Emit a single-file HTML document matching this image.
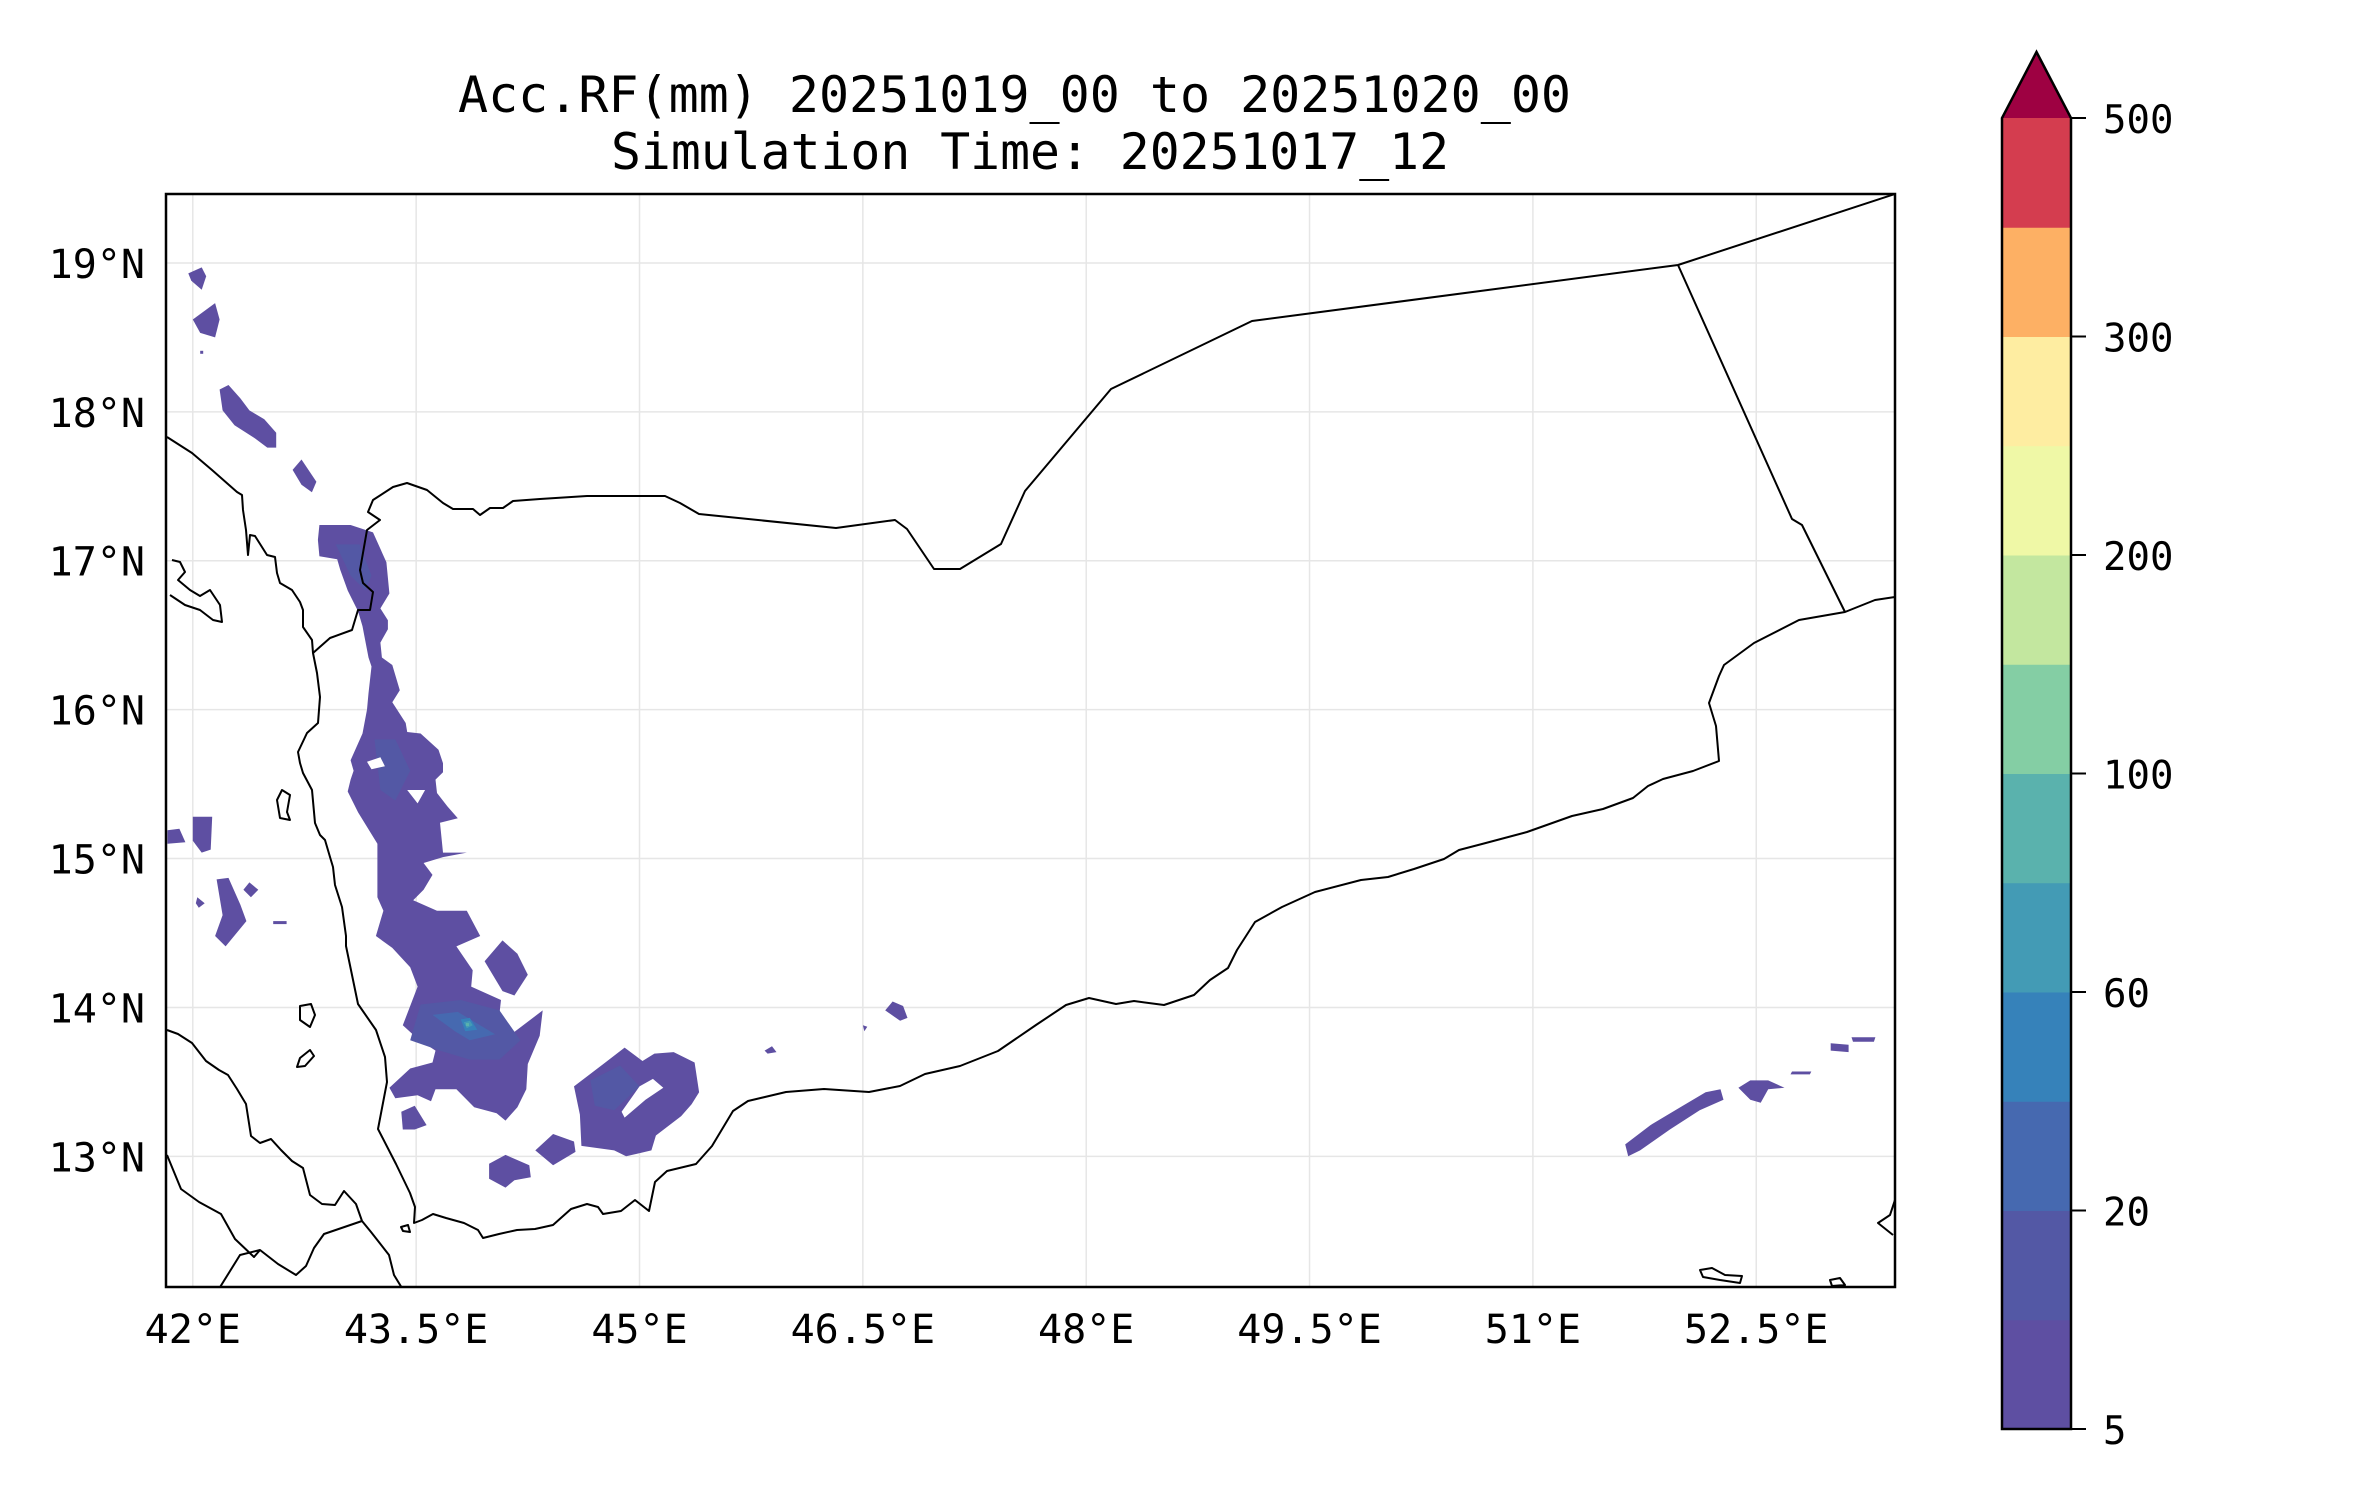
<!DOCTYPE html>
<html><head><meta charset="utf-8"><style>
html,body{margin:0;padding:0;background:#fff}
svg{display:block}
text{font-family:"DejaVu Sans Mono","Liberation Mono",monospace;fill:#000}
</style></head><body>
<svg id="chart" width="2371" height="1500" viewBox="0 0 2371 1500" xmlns="http://www.w3.org/2000/svg">
<rect width="2371" height="1500" fill="#fff"/>
<text x="458" y="112" font-size="50" textLength="1113" lengthAdjust="spacingAndGlyphs">Acc.RF(mm) 20251019_00 to 20251020_00</text>
<text x="611" y="169" font-size="50" textLength="838" lengthAdjust="spacingAndGlyphs">Simulation Time: 20251017_12</text>
<defs><clipPath id="plotclip"><rect x="166" y="194" width="1729" height="1093"/></clipPath></defs>
<g id="grid"></g>
<g id="rain" clip-path="url(#plotclip)"></g>
<g clip-path="url(#plotclip)" fill="none" stroke="#000" stroke-width="2" stroke-linejoin="round">
<path d="M167,437 L192,453 L212,470 L237,492 L242,495 L243,510 L246,530 L248,555 L250,535 L255,536 L267,555 L275,557 L277,573 L280,583 L292,590 L300,602 L303,610 L303,627 L312,640 L313,653 L317,673 L320,697 L318,723 L307,733 L298,752 L300,763 L303,773 L312,790 L315,823 L320,835 L325,840 L330,857 L333,867 L335,885 L342,907 L346,936 L346,946 L358,1004 L376,1030 L385,1057 L387,1082 L378,1129 L396,1164 L410,1193 L415,1207 L414,1223 L422,1220 L433,1214 L446,1218 L464,1223 L478,1230 L483,1238 L499,1234 L517,1230 L535,1229 L553,1225 L571,1209 L587,1204 L598,1207 L603,1214 L621,1211 L635,1200 L649,1211 L655,1182 L667,1171 L696,1164 L712,1146 L733,1111 L748,1101 L786,1092 L824,1089 L869,1092 L900,1086 L925,1074 L960,1066 L998,1051 L1036,1025 L1066,1005 L1089,998 L1116,1004 L1134,1001 L1164,1005 L1194,995 L1210,980 L1228,968 L1237,950 L1255,922 L1282,907 L1315,892 L1361,880 L1388,877 L1414,869 L1444,859 L1459,850 L1482,844 L1527,832 L1572,816 L1603,809 L1633,798 L1648,786 L1663,779 L1693,771 L1719,761 L1716,726 L1709,703 L1719,676 L1724,665 L1754,643 L1799,620 L1845,612 L1875,600 L1895,597"/>
<path d="M313,653 L330,638 L352,630 L358,610 L370,610 L373,592 L363,583 L360,570 L367,530 L380,520 L368,512 L373,500 L393,487 L407,483 L427,490 L443,503 L453,509 L473,509 L480,515 L490,508 L503,508 L513,501 L540,499 L587,496 L665,496 L680,503 L699,514 L836,528 L895,520 L907,529 L934,569 L960,569 L1001,544 L1025,491 L1111,389 L1252,321 L1678,265 L1895,194"/>
<path d="M1678,265 L1792,519 L1802,525 L1845,612"/>
<path d="M167,1030 L178,1034 L192,1043 L206,1061 L219,1070 L228,1075 L237,1089 L246,1104 L251,1136 L260,1143 L271,1139 L281,1150 L292,1161 L303,1168 L310,1195 L322,1204 L335,1205 L344,1191 L356,1204 L362,1221 L371,1232 L389,1255 L394,1275 L405,1293"/>
<path d="M167,1155 L181,1189 L199,1202 L221,1214 L235,1239 L254,1257 L260,1250 L278,1264 L296,1275 L306,1266 L314,1248 L324,1234 L362,1221 M217,1292 L240,1255 L260,1250"/>
<path d="M172,560 L180,562 L185,572 L178,580 L190,590 L200,596 L210,590 L220,605 L222,622 L213,620 L200,610 L185,605 L170,595"/>
<path d="M282,790 L290,795 L287,812 L290,820 L280,818 L277,800 Z"/>
<path d="M300,1006 L311,1004 L315,1015 L310,1027 L300,1020 Z M310,1050 L314,1056 L305,1066 L297,1067 L300,1058 Z M401,1227 L408,1225 L410,1232 L403,1231 Z"/>
<path d="M1700,1270 L1712,1268 L1725,1275 L1742,1276 L1740,1283 L1720,1280 L1703,1277 Z M1830,1280 L1840,1278 L1845,1285 L1832,1286 Z M1895,1200 L1890,1215 L1878,1223 L1893,1235"/>
</g>
<rect x="166" y="194" width="1729" height="1093" fill="none" stroke="#000" stroke-width="2.5"/>
<g id="labels"></g>
<g id="cbar"></g>
</svg>
<script>
// ---- data ----
const lonTicks = [42, 43.5, 45, 46.5, 48, 49.5, 51, 52.5];
const lonLabels = ["42°E","43.5°E","45°E","46.5°E","48°E","49.5°E","51°E","52.5°E"];
const latTicks = [13, 14, 15, 16, 17, 18, 19];
const latLabels = ["13°N","14°N","15°N","16°N","17°N","18°N","19°N"];
const levels = [5, 10, 20, 40, 60, 80, 100, 150, 200, 250, 300, 400, 500];
const levelColors = ["#5e4fa2","#5358a5","#4669b0","#3682ba","#439bb5","#5ab2ad","#84cea4","#c3e79f","#eff8a6","#feeda1","#fdb064","#d43d4f"];
const overColor = "#9e0142";
const cbarTicks = [5, 20, 60, 100, 200, 300, 500];
// rainfall contour polygons: [lon,lat,...]
const rainBase = [
 [42.84,17.14, 42.85,17.24, 43.06,17.24, 43.21,17.19, 43.30,16.99, 43.32,16.78, 43.26,16.68, 43.31,16.60, 43.31,16.54, 43.26,16.45, 43.27,16.35, 43.34,16.30, 43.39,16.13, 43.34,16.05, 43.43,15.91, 43.44,15.85, 43.53,15.84, 43.65,15.73, 43.68,15.64, 43.68,15.58, 43.63,15.53, 43.64,15.44, 43.71,15.35, 43.78,15.27, 43.66,15.24, 43.68,15.04, 43.84,15.04, 43.68,15.01, 43.55,14.97, 43.61,14.89, 43.55,14.79, 43.48,14.72, 43.64,14.65, 43.75,14.65, 43.84,14.65, 43.93,14.48, 43.77,14.41, 43.88,14.25, 43.87,14.14, 44.07,14.05, 44.06,13.96, 44.02,13.88, 44.10,13.79, 44.35,13.98, 44.33,13.81, 44.25,13.62, 44.24,13.45, 44.18,13.33, 44.10,13.24, 44.04,13.29, 43.89,13.33, 43.77,13.45, 43.63,13.45, 43.60,13.37, 43.51,13.41, 43.36,13.39, 43.32,13.46, 43.46,13.59, 43.61,13.63, 43.63,13.71, 43.51,13.79, 43.41,13.88, 43.51,14.14, 43.46,14.27, 43.34,14.40, 43.23,14.48, 43.28,14.65, 43.24,14.74, 43.24,14.97, 43.24,15.10, 43.11,15.31, 43.04,15.45, 43.06,15.53, 43.08,15.59, 43.06,15.66, 43.14,15.84, 43.17,16.00, 43.18,16.11, 43.20,16.29, 43.18,16.35, 43.14,16.56, 43.11,16.66, 43.04,16.80, 42.99,16.94, 42.97,17.01, 42.85,17.03],
 [44.56,13.47, 44.77,13.63, 44.90,13.73, 45.02,13.64, 45.10,13.69, 45.23,13.70, 45.37,13.63, 45.40,13.43, 45.35,13.35, 45.28,13.27, 45.11,13.14, 45.08,13.04, 44.91,13.00, 44.83,13.04, 44.61,13.07, 44.60,13.28],
 [44.30,13.04, 44.42,13.15, 44.56,13.10, 44.57,13.03, 44.42,12.94],
 [43.99,12.95, 44.10,13.01, 44.26,12.94, 44.27,12.86, 44.16,12.84, 44.10,12.79, 43.99,12.85],
 [43.40,13.30, 43.49,13.34, 43.57,13.21, 43.49,13.18, 43.41,13.18],
 [43.96,14.31, 44.08,14.45, 44.18,14.36, 44.25,14.22, 44.16,14.08, 44.08,14.11],
 [42.16,14.86, 42.24,14.87, 42.32,14.69, 42.36,14.58, 42.22,14.41, 42.15,14.48, 42.20,14.62],
 [42.38,14.84, 42.44,14.79, 42.39,14.74, 42.34,14.79],
 [42.03,14.74, 42.08,14.70, 42.04,14.67, 42.02,14.70],
 [41.83,15.19, 41.91,15.20, 41.95,15.11, 41.83,15.10],
 [42.00,15.28, 42.13,15.28, 42.12,15.06, 42.06,15.04, 42.00,15.12],
 [42.54,14.58, 42.63,14.58, 42.63,14.56, 42.54,14.56],
 [41.97,18.93, 42.06,18.97, 42.09,18.91, 42.06,18.82, 41.99,18.88],
 [42.00,18.62, 42.15,18.73, 42.18,18.62, 42.15,18.50, 42.05,18.53],
 [42.18,18.15, 42.24,18.18, 42.32,18.09, 42.38,18.01, 42.48,17.95, 42.56,17.86, 42.56,17.76, 42.50,17.76, 42.42,17.82, 42.28,17.91, 42.20,18.01],
 [42.67,17.61, 42.73,17.68, 42.83,17.53, 42.80,17.46, 42.73,17.51],
 [42.05,18.41, 42.07,18.41, 42.07,18.39, 42.05,18.39],
 [46.65,13.98, 46.70,14.04, 46.77,14.01, 46.80,13.93, 46.75,13.91],
 [46.50,13.88, 46.53,13.87, 46.51,13.84],
 [45.84,13.71, 45.89,13.74, 45.92,13.70, 45.86,13.69],
 [51.62,13.08, 51.79,13.21, 51.99,13.33, 52.16,13.43, 52.26,13.45, 52.28,13.38, 52.12,13.31, 51.92,13.18, 51.72,13.04, 51.64,13.00],
 [52.38,13.46, 52.46,13.51, 52.58,13.51, 52.69,13.46, 52.58,13.45, 52.53,13.36, 52.46,13.38],
 [52.74,13.57, 52.87,13.57, 52.86,13.55, 52.73,13.55],
 [53.00,13.76, 53.12,13.75, 53.12,13.70, 53.00,13.71],
 [53.14,13.80, 53.30,13.80, 53.29,13.77, 53.15,13.77]
];
const rainHoles = [
 [43.17,15.65, 43.26,15.68, 43.29,15.62, 43.20,15.60],
 [43.44,15.46, 43.56,15.46, 43.51,15.37],
 [45.09,13.52, 45.16,13.46, 45.04,13.38, 44.90,13.26, 44.88,13.30, 45.00,13.47]
];
const rainL1 = [
 [43.53,14.02, 43.80,14.05, 44.06,13.98, 44.20,13.78, 44.06,13.65, 43.86,13.65, 43.66,13.71, 43.46,13.78],
 [42.96,17.11, 43.12,17.11, 43.20,16.90, 43.16,16.80, 43.06,16.90],
 [43.22,15.80, 43.36,15.80, 43.46,15.59, 43.36,15.39, 43.26,15.46],
 [44.67,13.51, 44.87,13.61, 45.00,13.47, 44.83,13.31, 44.70,13.34]
];
const rainL2 = [[43.61,13.95, 43.78,13.97, 44.03,13.82, 43.86,13.78, 43.76,13.84]];
const rainL3 = [[43.80,13.92, 43.86,13.93, 43.91,13.85, 43.83,13.84]];
const rainL4 = [[43.82,13.90, 43.86,13.91, 43.88,13.88, 43.84,13.86]];
const rainL5 = [[43.835,13.895, 43.855,13.895, 43.855,13.875, 43.835,13.875]];

// ---- axes ----
const X0 = 166, Y0 = 194, K = 148.9, LON0 = 41.82, LAT0 = 19.463;
const px = lon => X0 + (lon - LON0) * K;
const py = lat => Y0 + (LAT0 - lat) * K;
const NS = "http://www.w3.org/2000/svg";
function mk(tag, parent) { const e = document.createElementNS(NS, tag); parent.appendChild(e); return e; }

const grid = document.getElementById('grid');
lonTicks.forEach((v) => {
  const l = mk('line', grid);
  
  
  l.setAttribute('x1', px(v)); l.setAttribute('x2', px(v)); l.setAttribute('y1', 194); l.setAttribute('y2', 1287);
  l.setAttribute('stroke', '#e6e6e6'); l.setAttribute('stroke-width', '1.5');
});
latTicks.forEach((v) => {
  const l = mk('line', grid);
  
  
  l.setAttribute('y1', py(v)); l.setAttribute('y2', py(v)); l.setAttribute('x1', 166); l.setAttribute('x2', 1895);
  l.setAttribute('stroke', '#e6e6e6'); l.setAttribute('stroke-width', '1.5');
});

const rain = document.getElementById('rain');
function poly(arr, fill, name) {
  const p = mk('polygon', rain);
  
  
  const pts = [];
  for (let i = 0; i < arr.length; i += 2) pts.push(px(arr[i]).toFixed(1) + ',' + py(arr[i + 1]).toFixed(1));
  p.setAttribute('points', pts.join(' '));
  p.setAttribute('fill', fill);
}
rainBase.forEach(a => poly(a, levelColors[0], 'rain-area-5-10mm'));
rainL1.forEach(a => poly(a, levelColors[1], 'rain-area-10-20mm'));
rainL2.forEach(a => poly(a, levelColors[2], 'rain-area-20-40mm'));
rainL3.forEach(a => poly(a, levelColors[3], 'rain-area-40-60mm'));
rainL4.forEach(a => poly(a, levelColors[4], 'rain-area-60-80mm'));
rainL5.forEach(a => poly(a, levelColors[5], 'rain-area-80-100mm'));
rainHoles.forEach(a => poly(a, '#ffffff', 'rain-gap'));

const labels = document.getElementById('labels');
lonTicks.forEach((v, i) => {
  const t = mk('text', labels);
  
  
  t.setAttribute('x', px(v)); t.setAttribute('y', 1343);
  t.setAttribute('text-anchor', 'middle'); t.setAttribute('font-size', '40');
  t.textContent = lonLabels[i];
});
latTicks.forEach((v, i) => {
  const t = mk('text', labels);
  
  
  t.setAttribute('x', 145); t.setAttribute('y', py(v) + 15);
  t.setAttribute('text-anchor', 'end'); t.setAttribute('font-size', '40');
  t.textContent = latLabels[i];
});

// ---- colorbar ----
const cb = document.getElementById('cbar');
const CBX = 2002, CBW = 69, CBT = 118, CBB = 1429;
const nb = levels.length - 1;
const bh = (CBB - CBT) / nb;
const cy = lvl => CBB - levels.indexOf(lvl) * bh;
levelColors.forEach((c, i) => {
  const r = mk('rect', cb);
  
  
  r.setAttribute('x', CBX); r.setAttribute('y', CBB - (i + 1) * bh); r.setAttribute('width', CBW); r.setAttribute('height', bh + 0.5);
  r.setAttribute('fill', c);
});
const tri = mk('polygon', cb);


tri.setAttribute('points', `${CBX},${CBT} ${CBX + CBW / 2},52 ${CBX + CBW},${CBT}`);
tri.setAttribute('fill', overColor);
const outline = mk('path', cb);


outline.setAttribute('d', `M${CBX},${CBB} L${CBX},${CBT} L${CBX + CBW / 2},52 L${CBX + CBW},${CBT} L${CBX + CBW},${CBB} Z`);
outline.setAttribute('fill', 'none'); outline.setAttribute('stroke', '#000'); outline.setAttribute('stroke-width', '2.5');
cbarTicks.forEach(v => {
  const l = mk('line', cb);
  
  
  l.setAttribute('x1', CBX + CBW); l.setAttribute('x2', CBX + CBW + 15); l.setAttribute('y1', cy(v)); l.setAttribute('y2', cy(v));
  l.setAttribute('stroke', '#000'); l.setAttribute('stroke-width', '2');
  const t = mk('text', cb);
  
  
  t.setAttribute('x', 2103); t.setAttribute('y', cy(v) + 15); t.setAttribute('font-size', '39');
  t.textContent = String(v);
});
</script>
</body></html>
